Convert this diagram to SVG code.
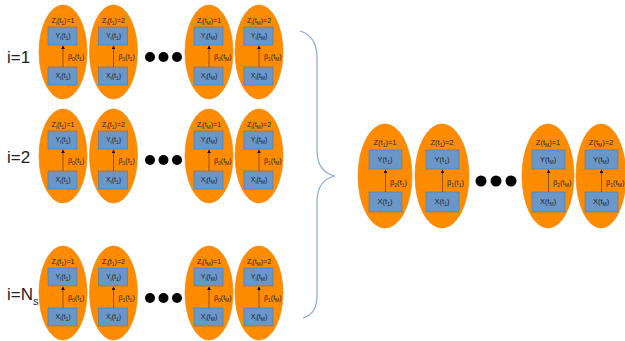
<svg xmlns="http://www.w3.org/2000/svg" width="625" height="341" viewBox="0 0 625 341">
<defs>
<style>
.el{fill:#ff8c00;stroke:#f08000;stroke-width:0.6}
.bx{fill:#6b97c8;stroke:#4f78a8;stroke-width:0.6}
.t{font-family:"Liberation Sans",Arial,sans-serif;font-size:7px;fill:#222;text-anchor:middle}
.tr{font-family:"Liberation Sans",Arial,sans-serif;font-size:7.5px;fill:#222;text-anchor:middle}
.b{text-anchor:start}
.s{font-size:5px}
.ar{stroke:#8a4b00;stroke-width:0.9;fill:none;marker-end:url(#ah)}
.big{font-family:"Liberation Sans",Arial,sans-serif;font-size:17px;fill:#222}
.dot{fill:#000}
</style>
<marker id="ah" viewBox="0 0 6 6" refX="5" refY="3" markerWidth="4" markerHeight="4" orient="auto"><path d="M0,0 L6,3 L0,6 z" fill="#000"/></marker>
</defs>

<g id="labels">
<text class="big" x="7" y="63">i=1</text>
<text class="big" x="7" y="163">i=2</text>
<text class="big" x="7" y="300">i=N<tspan font-size="11" dy="5">s</tspan></text>
</g>

<g id="dots">
<circle class="dot" cx="150" cy="57" r="5"/><circle class="dot" cx="163.5" cy="57" r="5"/><circle class="dot" cx="177" cy="57" r="5"/>
<circle class="dot" cx="150" cy="160" r="5"/><circle class="dot" cx="163.5" cy="160" r="5"/><circle class="dot" cx="177" cy="160" r="5"/>
<circle class="dot" cx="150" cy="298" r="5"/><circle class="dot" cx="163.5" cy="298" r="5"/><circle class="dot" cx="177" cy="298" r="5"/>
<circle class="dot" cx="481" cy="181" r="5.5"/><circle class="dot" cx="496" cy="181" r="5.5"/><circle class="dot" cx="511" cy="181" r="5.5"/>
</g>

<g id="brace">
<path d="M300,31 Q317,36 317,58 L317,150 Q317,172 335,176 Q317,180 317,202 L317,296 Q317,314 303,318" fill="none" stroke="#8aa6d6" stroke-width="1.2"/>
</g>

<!-- Row 1 -->
<g id="n1_1" transform="translate(63,52)">
<ellipse class="el" rx="24" ry="47"/>
<rect class="bx" x="-15" y="-25" width="29" height="18"/>
<rect class="bx" x="-15" y="15" width="29" height="18"/>
<text class="t" y="-29">Z<tspan class="s" dy="1.5">i</tspan><tspan dy="-1.5">(t</tspan><tspan class="s" dy="1.5">1</tspan><tspan dy="-1.5">)=1</tspan></text>
<text class="t" y="-14">Y<tspan class="s" dy="1.5">i</tspan><tspan dy="-1.5">(t</tspan><tspan class="s" dy="1.5">1</tspan><tspan dy="-1.5">)</tspan></text>
<text class="t" y="26">X<tspan class="s" dy="1.5">i</tspan><tspan dy="-1.5">(t</tspan><tspan class="s" dy="1.5">1</tspan><tspan dy="-1.5">)</tspan></text>
<text class="t b" x="5" y="7">β<tspan class="s" dy="1.5">0</tspan><tspan dy="-1.5">(t</tspan><tspan class="s" dy="1.5">1</tspan><tspan dy="-1.5">)</tspan></text>
</g>
<g id="n1_2" transform="translate(113.5,52)">
<ellipse class="el" rx="24" ry="47"/>
<rect class="bx" x="-15" y="-25" width="29" height="18"/>
<rect class="bx" x="-15" y="15" width="29" height="18"/>
<text class="t" y="-29">Z<tspan class="s" dy="1.5">i</tspan><tspan dy="-1.5">(t</tspan><tspan class="s" dy="1.5">1</tspan><tspan dy="-1.5">)=2</tspan></text>
<text class="t" y="-14">Y<tspan class="s" dy="1.5">i</tspan><tspan dy="-1.5">(t</tspan><tspan class="s" dy="1.5">1</tspan><tspan dy="-1.5">)</tspan></text>
<text class="t" y="26">X<tspan class="s" dy="1.5">i</tspan><tspan dy="-1.5">(t</tspan><tspan class="s" dy="1.5">1</tspan><tspan dy="-1.5">)</tspan></text>
<text class="t b" x="5" y="7">β<tspan class="s" dy="1.5">1</tspan><tspan dy="-1.5">(t</tspan><tspan class="s" dy="1.5">1</tspan><tspan dy="-1.5">)</tspan></text>
</g>
<g id="n1_3" transform="translate(209,52)">
<ellipse class="el" rx="24" ry="47"/>
<rect class="bx" x="-15" y="-25" width="29" height="18"/>
<rect class="bx" x="-15" y="15" width="29" height="18"/>
<text class="t" y="-29">Z<tspan class="s" dy="1.5">i</tspan><tspan dy="-1.5">(t</tspan><tspan class="s" dy="1.5">M</tspan><tspan dy="-1.5">)=1</tspan></text>
<text class="t" y="-14">Y<tspan class="s" dy="1.5">i</tspan><tspan dy="-1.5">(t</tspan><tspan class="s" dy="1.5">M</tspan><tspan dy="-1.5">)</tspan></text>
<text class="t" y="26">X<tspan class="s" dy="1.5">i</tspan><tspan dy="-1.5">(t</tspan><tspan class="s" dy="1.5">M</tspan><tspan dy="-1.5">)</tspan></text>
<text class="t b" x="5" y="7">β<tspan class="s" dy="1.5">0</tspan><tspan dy="-1.5">(t</tspan><tspan class="s" dy="1.5">M</tspan><tspan dy="-1.5">)</tspan></text>
</g>
<g id="n1_4" transform="translate(259,52)">
<ellipse class="el" rx="24" ry="47"/>
<rect class="bx" x="-15" y="-25" width="29" height="18"/>
<rect class="bx" x="-15" y="15" width="29" height="18"/>
<text class="t" y="-29">Z<tspan class="s" dy="1.5">i</tspan><tspan dy="-1.5">(t</tspan><tspan class="s" dy="1.5">M</tspan><tspan dy="-1.5">)=2</tspan></text>
<text class="t" y="-14">Y<tspan class="s" dy="1.5">i</tspan><tspan dy="-1.5">(t</tspan><tspan class="s" dy="1.5">M</tspan><tspan dy="-1.5">)</tspan></text>
<text class="t" y="26">X<tspan class="s" dy="1.5">i</tspan><tspan dy="-1.5">(t</tspan><tspan class="s" dy="1.5">M</tspan><tspan dy="-1.5">)</tspan></text>
<text class="t b" x="5" y="7">β<tspan class="s" dy="1.5">1</tspan><tspan dy="-1.5">(t</tspan><tspan class="s" dy="1.5">M</tspan><tspan dy="-1.5">)</tspan></text>
</g>

<!-- Row 2 -->
<g id="n2_1" transform="translate(63,156)">
<ellipse class="el" rx="24" ry="47"/>
<rect class="bx" x="-15" y="-25" width="29" height="18"/>
<rect class="bx" x="-15" y="15" width="29" height="18"/>
<text class="t" y="-29">Z<tspan class="s" dy="1.5">i</tspan><tspan dy="-1.5">(t</tspan><tspan class="s" dy="1.5">1</tspan><tspan dy="-1.5">)=1</tspan></text>
<text class="t" y="-14">Y<tspan class="s" dy="1.5">i</tspan><tspan dy="-1.5">(t</tspan><tspan class="s" dy="1.5">1</tspan><tspan dy="-1.5">)</tspan></text>
<text class="t" y="26">X<tspan class="s" dy="1.5">i</tspan><tspan dy="-1.5">(t</tspan><tspan class="s" dy="1.5">1</tspan><tspan dy="-1.5">)</tspan></text>
<text class="t b" x="5" y="7">β<tspan class="s" dy="1.5">0</tspan><tspan dy="-1.5">(t</tspan><tspan class="s" dy="1.5">1</tspan><tspan dy="-1.5">)</tspan></text>
</g>
<g id="n2_2" transform="translate(113.5,156)">
<ellipse class="el" rx="24" ry="47"/>
<rect class="bx" x="-15" y="-25" width="29" height="18"/>
<rect class="bx" x="-15" y="15" width="29" height="18"/>
<text class="t" y="-29">Z<tspan class="s" dy="1.5">i</tspan><tspan dy="-1.5">(t</tspan><tspan class="s" dy="1.5">1</tspan><tspan dy="-1.5">)=2</tspan></text>
<text class="t" y="-14">Y<tspan class="s" dy="1.5">i</tspan><tspan dy="-1.5">(t</tspan><tspan class="s" dy="1.5">1</tspan><tspan dy="-1.5">)</tspan></text>
<text class="t" y="26">X<tspan class="s" dy="1.5">i</tspan><tspan dy="-1.5">(t</tspan><tspan class="s" dy="1.5">1</tspan><tspan dy="-1.5">)</tspan></text>
<text class="t b" x="5" y="7">β<tspan class="s" dy="1.5">1</tspan><tspan dy="-1.5">(t</tspan><tspan class="s" dy="1.5">1</tspan><tspan dy="-1.5">)</tspan></text>
</g>
<g id="n2_3" transform="translate(209,156)">
<ellipse class="el" rx="24" ry="47"/>
<rect class="bx" x="-15" y="-25" width="29" height="18"/>
<rect class="bx" x="-15" y="15" width="29" height="18"/>
<text class="t" y="-29">Z<tspan class="s" dy="1.5">i</tspan><tspan dy="-1.5">(t</tspan><tspan class="s" dy="1.5">M</tspan><tspan dy="-1.5">)=1</tspan></text>
<text class="t" y="-14">Y<tspan class="s" dy="1.5">i</tspan><tspan dy="-1.5">(t</tspan><tspan class="s" dy="1.5">M</tspan><tspan dy="-1.5">)</tspan></text>
<text class="t" y="26">X<tspan class="s" dy="1.5">i</tspan><tspan dy="-1.5">(t</tspan><tspan class="s" dy="1.5">M</tspan><tspan dy="-1.5">)</tspan></text>
<text class="t b" x="5" y="7">β<tspan class="s" dy="1.5">0</tspan><tspan dy="-1.5">(t</tspan><tspan class="s" dy="1.5">M</tspan><tspan dy="-1.5">)</tspan></text>
</g>
<g id="n2_4" transform="translate(259,156)">
<ellipse class="el" rx="24" ry="47"/>
<rect class="bx" x="-15" y="-25" width="29" height="18"/>
<rect class="bx" x="-15" y="15" width="29" height="18"/>
<text class="t" y="-29">Z<tspan class="s" dy="1.5">i</tspan><tspan dy="-1.5">(t</tspan><tspan class="s" dy="1.5">M</tspan><tspan dy="-1.5">)=2</tspan></text>
<text class="t" y="-14">Y<tspan class="s" dy="1.5">i</tspan><tspan dy="-1.5">(t</tspan><tspan class="s" dy="1.5">M</tspan><tspan dy="-1.5">)</tspan></text>
<text class="t" y="26">X<tspan class="s" dy="1.5">i</tspan><tspan dy="-1.5">(t</tspan><tspan class="s" dy="1.5">M</tspan><tspan dy="-1.5">)</tspan></text>
<text class="t b" x="5" y="7">β<tspan class="s" dy="1.5">1</tspan><tspan dy="-1.5">(t</tspan><tspan class="s" dy="1.5">M</tspan><tspan dy="-1.5">)</tspan></text>
</g>

<!-- Row 3 -->
<g id="n3_1" transform="translate(63,293)">
<ellipse class="el" rx="24" ry="47"/>
<rect class="bx" x="-15" y="-25" width="29" height="18"/>
<rect class="bx" x="-15" y="15" width="29" height="18"/>
<text class="t" y="-29">Z<tspan class="s" dy="1.5">i</tspan><tspan dy="-1.5">(t</tspan><tspan class="s" dy="1.5">1</tspan><tspan dy="-1.5">)=1</tspan></text>
<text class="t" y="-14">Y<tspan class="s" dy="1.5">i</tspan><tspan dy="-1.5">(t</tspan><tspan class="s" dy="1.5">1</tspan><tspan dy="-1.5">)</tspan></text>
<text class="t" y="26">X<tspan class="s" dy="1.5">i</tspan><tspan dy="-1.5">(t</tspan><tspan class="s" dy="1.5">1</tspan><tspan dy="-1.5">)</tspan></text>
<text class="t b" x="5" y="7">β<tspan class="s" dy="1.5">0</tspan><tspan dy="-1.5">(t</tspan><tspan class="s" dy="1.5">1</tspan><tspan dy="-1.5">)</tspan></text>
</g>
<g id="n3_2" transform="translate(113.5,293)">
<ellipse class="el" rx="24" ry="47"/>
<rect class="bx" x="-15" y="-25" width="29" height="18"/>
<rect class="bx" x="-15" y="15" width="29" height="18"/>
<text class="t" y="-29">Z<tspan class="s" dy="1.5">i</tspan><tspan dy="-1.5">(t</tspan><tspan class="s" dy="1.5">1</tspan><tspan dy="-1.5">)=2</tspan></text>
<text class="t" y="-14">Y<tspan class="s" dy="1.5">i</tspan><tspan dy="-1.5">(t</tspan><tspan class="s" dy="1.5">1</tspan><tspan dy="-1.5">)</tspan></text>
<text class="t" y="26">X<tspan class="s" dy="1.5">i</tspan><tspan dy="-1.5">(t</tspan><tspan class="s" dy="1.5">1</tspan><tspan dy="-1.5">)</tspan></text>
<text class="t b" x="5" y="7">β<tspan class="s" dy="1.5">1</tspan><tspan dy="-1.5">(t</tspan><tspan class="s" dy="1.5">1</tspan><tspan dy="-1.5">)</tspan></text>
</g>
<g id="n3_3" transform="translate(209,293)">
<ellipse class="el" rx="24" ry="47"/>
<rect class="bx" x="-15" y="-25" width="29" height="18"/>
<rect class="bx" x="-15" y="15" width="29" height="18"/>
<text class="t" y="-29">Z<tspan class="s" dy="1.5">i</tspan><tspan dy="-1.5">(t</tspan><tspan class="s" dy="1.5">M</tspan><tspan dy="-1.5">)=1</tspan></text>
<text class="t" y="-14">Y<tspan class="s" dy="1.5">i</tspan><tspan dy="-1.5">(t</tspan><tspan class="s" dy="1.5">M</tspan><tspan dy="-1.5">)</tspan></text>
<text class="t" y="26">X<tspan class="s" dy="1.5">i</tspan><tspan dy="-1.5">(t</tspan><tspan class="s" dy="1.5">M</tspan><tspan dy="-1.5">)</tspan></text>
<text class="t b" x="5" y="7">β<tspan class="s" dy="1.5">0</tspan><tspan dy="-1.5">(t</tspan><tspan class="s" dy="1.5">M</tspan><tspan dy="-1.5">)</tspan></text>
</g>
<g id="n3_4" transform="translate(259,293)">
<ellipse class="el" rx="24" ry="47"/>
<rect class="bx" x="-15" y="-25" width="29" height="18"/>
<rect class="bx" x="-15" y="15" width="29" height="18"/>
<text class="t" y="-29">Z<tspan class="s" dy="1.5">i</tspan><tspan dy="-1.5">(t</tspan><tspan class="s" dy="1.5">M</tspan><tspan dy="-1.5">)=2</tspan></text>
<text class="t" y="-14">Y<tspan class="s" dy="1.5">i</tspan><tspan dy="-1.5">(t</tspan><tspan class="s" dy="1.5">M</tspan><tspan dy="-1.5">)</tspan></text>
<text class="t" y="26">X<tspan class="s" dy="1.5">i</tspan><tspan dy="-1.5">(t</tspan><tspan class="s" dy="1.5">M</tspan><tspan dy="-1.5">)</tspan></text>
<text class="t b" x="5" y="7">β<tspan class="s" dy="1.5">1</tspan><tspan dy="-1.5">(t</tspan><tspan class="s" dy="1.5">M</tspan><tspan dy="-1.5">)</tspan></text>
</g>

<!-- Right group -->
<g id="r1" transform="translate(385,176)">
<ellipse class="el" rx="27" ry="52"/>
<rect class="bx" x="-16" y="-26" width="33" height="19"/>
<rect class="bx" x="-16" y="16" width="33" height="20"/>
<text class="tr" y="-31">Z(t<tspan class="s" dy="1.5">1</tspan><tspan dy="-1.5">)=1</tspan></text>
<text class="tr" y="-14">Y(t<tspan class="s" dy="1.5">1</tspan><tspan dy="-1.5">)</tspan></text>
<text class="tr" y="28">X(t<tspan class="s" dy="1.5">1</tspan><tspan dy="-1.5">)</tspan></text>
<text class="tr b" x="5" y="9">β<tspan class="s" dy="1.5">2</tspan><tspan dy="-1.5">(t</tspan><tspan class="s" dy="1.5">1</tspan><tspan dy="-1.5">)</tspan></text>
</g>
<g id="r2" transform="translate(442,176)">
<ellipse class="el" rx="27" ry="52"/>
<rect class="bx" x="-16" y="-26" width="33" height="19"/>
<rect class="bx" x="-16" y="16" width="33" height="20"/>
<text class="tr" y="-31">Z(t<tspan class="s" dy="1.5">1</tspan><tspan dy="-1.5">)=2</tspan></text>
<text class="tr" y="-14">Y(t<tspan class="s" dy="1.5">1</tspan><tspan dy="-1.5">)</tspan></text>
<text class="tr" y="28">X(t<tspan class="s" dy="1.5">1</tspan><tspan dy="-1.5">)</tspan></text>
<text class="tr b" x="5" y="9">β<tspan class="s" dy="1.5">1</tspan><tspan dy="-1.5">(t</tspan><tspan class="s" dy="1.5">1</tspan><tspan dy="-1.5">)</tspan></text>
</g>
<g id="r3" transform="translate(548,176)">
<ellipse class="el" rx="26" ry="52"/>
<rect class="bx" x="-16" y="-26" width="33" height="19"/>
<rect class="bx" x="-16" y="16" width="33" height="20"/>
<text class="tr" y="-31">Z(t<tspan class="s" dy="1.5">M</tspan><tspan dy="-1.5">)=1</tspan></text>
<text class="tr" y="-14">Y(t<tspan class="s" dy="1.5">M</tspan><tspan dy="-1.5">)</tspan></text>
<text class="tr" y="28">X(t<tspan class="s" dy="1.5">M</tspan><tspan dy="-1.5">)</tspan></text>
<text class="tr b" x="5" y="9">β<tspan class="s" dy="1.5">2</tspan><tspan dy="-1.5">(t</tspan><tspan class="s" dy="1.5">M</tspan><tspan dy="-1.5">)</tspan></text>
</g>
<g id="r4" transform="translate(601,176)">
<ellipse class="el" rx="25" ry="52"/>
<rect class="bx" x="-16" y="-26" width="33" height="19"/>
<rect class="bx" x="-16" y="16" width="33" height="20"/>
<text class="tr" y="-31">Z(t<tspan class="s" dy="1.5">M</tspan><tspan dy="-1.5">)=2</tspan></text>
<text class="tr" y="-14">Y(t<tspan class="s" dy="1.5">M</tspan><tspan dy="-1.5">)</tspan></text>
<text class="tr" y="28">X(t<tspan class="s" dy="1.5">M</tspan><tspan dy="-1.5">)</tspan></text>
<text class="tr b" x="5" y="9">β<tspan class="s" dy="1.5">1</tspan><tspan dy="-1.5">(t</tspan><tspan class="s" dy="1.5">M</tspan><tspan dy="-1.5">)</tspan></text>
</g>

<g id="connectors">
<line class="ar" x1="63" y1="67" x2="63" y2="46"/>
<line class="ar" x1="113.5" y1="67" x2="113.5" y2="46"/>
<line class="ar" x1="209" y1="67" x2="209" y2="46"/>
<line class="ar" x1="259" y1="67" x2="259" y2="46"/>
<line class="ar" x1="63" y1="171" x2="63" y2="150"/>
<line class="ar" x1="113.5" y1="171" x2="113.5" y2="150"/>
<line class="ar" x1="209" y1="171" x2="209" y2="150"/>
<line class="ar" x1="259" y1="171" x2="259" y2="150"/>
<line class="ar" x1="63" y1="308" x2="63" y2="287"/>
<line class="ar" x1="113.5" y1="308" x2="113.5" y2="287"/>
<line class="ar" x1="209" y1="308" x2="209" y2="287"/>
<line class="ar" x1="259" y1="308" x2="259" y2="287"/>
<line class="ar" x1="385.5" y1="192" x2="385.5" y2="170"/>
<line class="ar" x1="442.5" y1="192" x2="442.5" y2="170"/>
<line class="ar" x1="548.5" y1="192" x2="548.5" y2="170"/>
<line class="ar" x1="601.5" y1="192" x2="601.5" y2="170"/>
</g>
</svg>
